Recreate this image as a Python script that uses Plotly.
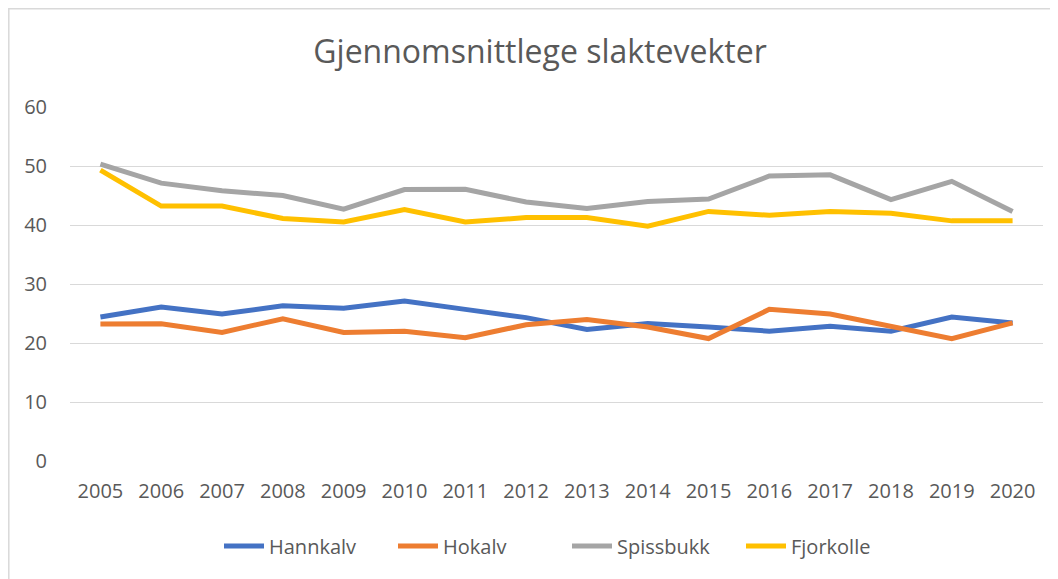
import plotly.graph_objects as go

years = [str(y) for y in range(2005, 2021)]
hannkalv = [24.4, 26.1, 24.9, 26.3, 25.9, 27.1, 25.7, 24.3, 22.3, 23.3, 22.7, 22.0, 22.85, 22.0, 24.4, 23.4]
hokalv = [23.2, 23.25, 21.8, 24.1, 21.8, 22.0, 20.9, 23.1, 24.0, 22.7, 20.75, 25.7, 24.9, 22.9, 20.75, 23.4]
spissbukk = [50.3, 47.1, 45.8, 45.0, 42.7, 46.0, 46.05, 43.9, 42.8, 44.0, 44.4, 48.3, 48.5, 44.3, 47.4, 42.3]
fjorkolle = [49.3, 43.2, 43.2, 41.1, 40.5, 42.6, 40.5, 41.25, 41.25, 39.8, 42.3, 41.65, 42.3, 42.0, 40.7, 40.7]

series = [
    ("Hannkalv", hannkalv, "#4472C4"),
    ("Hokalv", hokalv, "#ED7D31"),
    ("Spissbukk", spissbukk, "#A5A5A5"),
    ("Fjorkolle", fjorkolle, "#FFC000"),
]

FONT = "Open Sans"
GREY = "#595959"
OFF = 8  # page body margin

W, H = 1058 - OFF, 579 - OFF
L, R, T, B = 70 - OFF, 15, 107 - OFF, 118
PW, PH = W - L - R, H - T - B

fig = go.Figure()
for name, vals, col in series:
    fig.add_trace(go.Scatter(x=years, y=vals, name=name, mode="lines",
                             line=dict(color=col, width=5, shape="linear")))

fig.update_layout(
    width=W, height=H,
    margin=dict(l=L, r=R, t=T, b=B, autoexpand=False),
    paper_bgcolor="white", plot_bgcolor="white",
    font=dict(family=FONT, color=GREY, size=20),
    title=dict(text="Gjennomsnittlege slaktevekter", x=(540 - OFF) / W, xanchor="center",
               y=1 - (52 - OFF) / H, yanchor="middle",
               font=dict(family=FONT, size=32, color=GREY)),
    xaxis=dict(type="category", range=[-0.5, len(years) - 0.5], showgrid=False,
               showline=False, zeroline=False,
               ticks="", tickfont=dict(size=20, color=GREY), ticklabelstandoff=16),
    yaxis=dict(range=[0, 60], dtick=10, showgrid=True, gridcolor="#D9D9D9", gridwidth=1,
               zeroline=False, showline=False, ticks="",
               tickfont=dict(size=20, color=GREY), ticklabelstandoff=22),
    legend=dict(orientation="h", x=(567 - 70) / PW, xanchor="center",
                y=(461 - 546) / PH, yanchor="middle",
                font=dict(size=20, color=GREY), itemwidth=40, tracegroupgap=0,
                entrywidth=119, entrywidthmode="pixels",
                bgcolor="rgba(0,0,0,0)"),
    showlegend=True,
)

fig.add_shape(type="rect", xref="paper", yref="paper",
              x0=(OFF + 0.8 - 70) / PW, x1=(1070 - 70) / PW,
              y0=(461 - 600) / PH, y1=(461 - 8.8) / PH,
              line=dict(color="#D9D9D9", width=1.5), fillcolor="rgba(0,0,0,0)", layer="below")

fig.write_html("out.html")
